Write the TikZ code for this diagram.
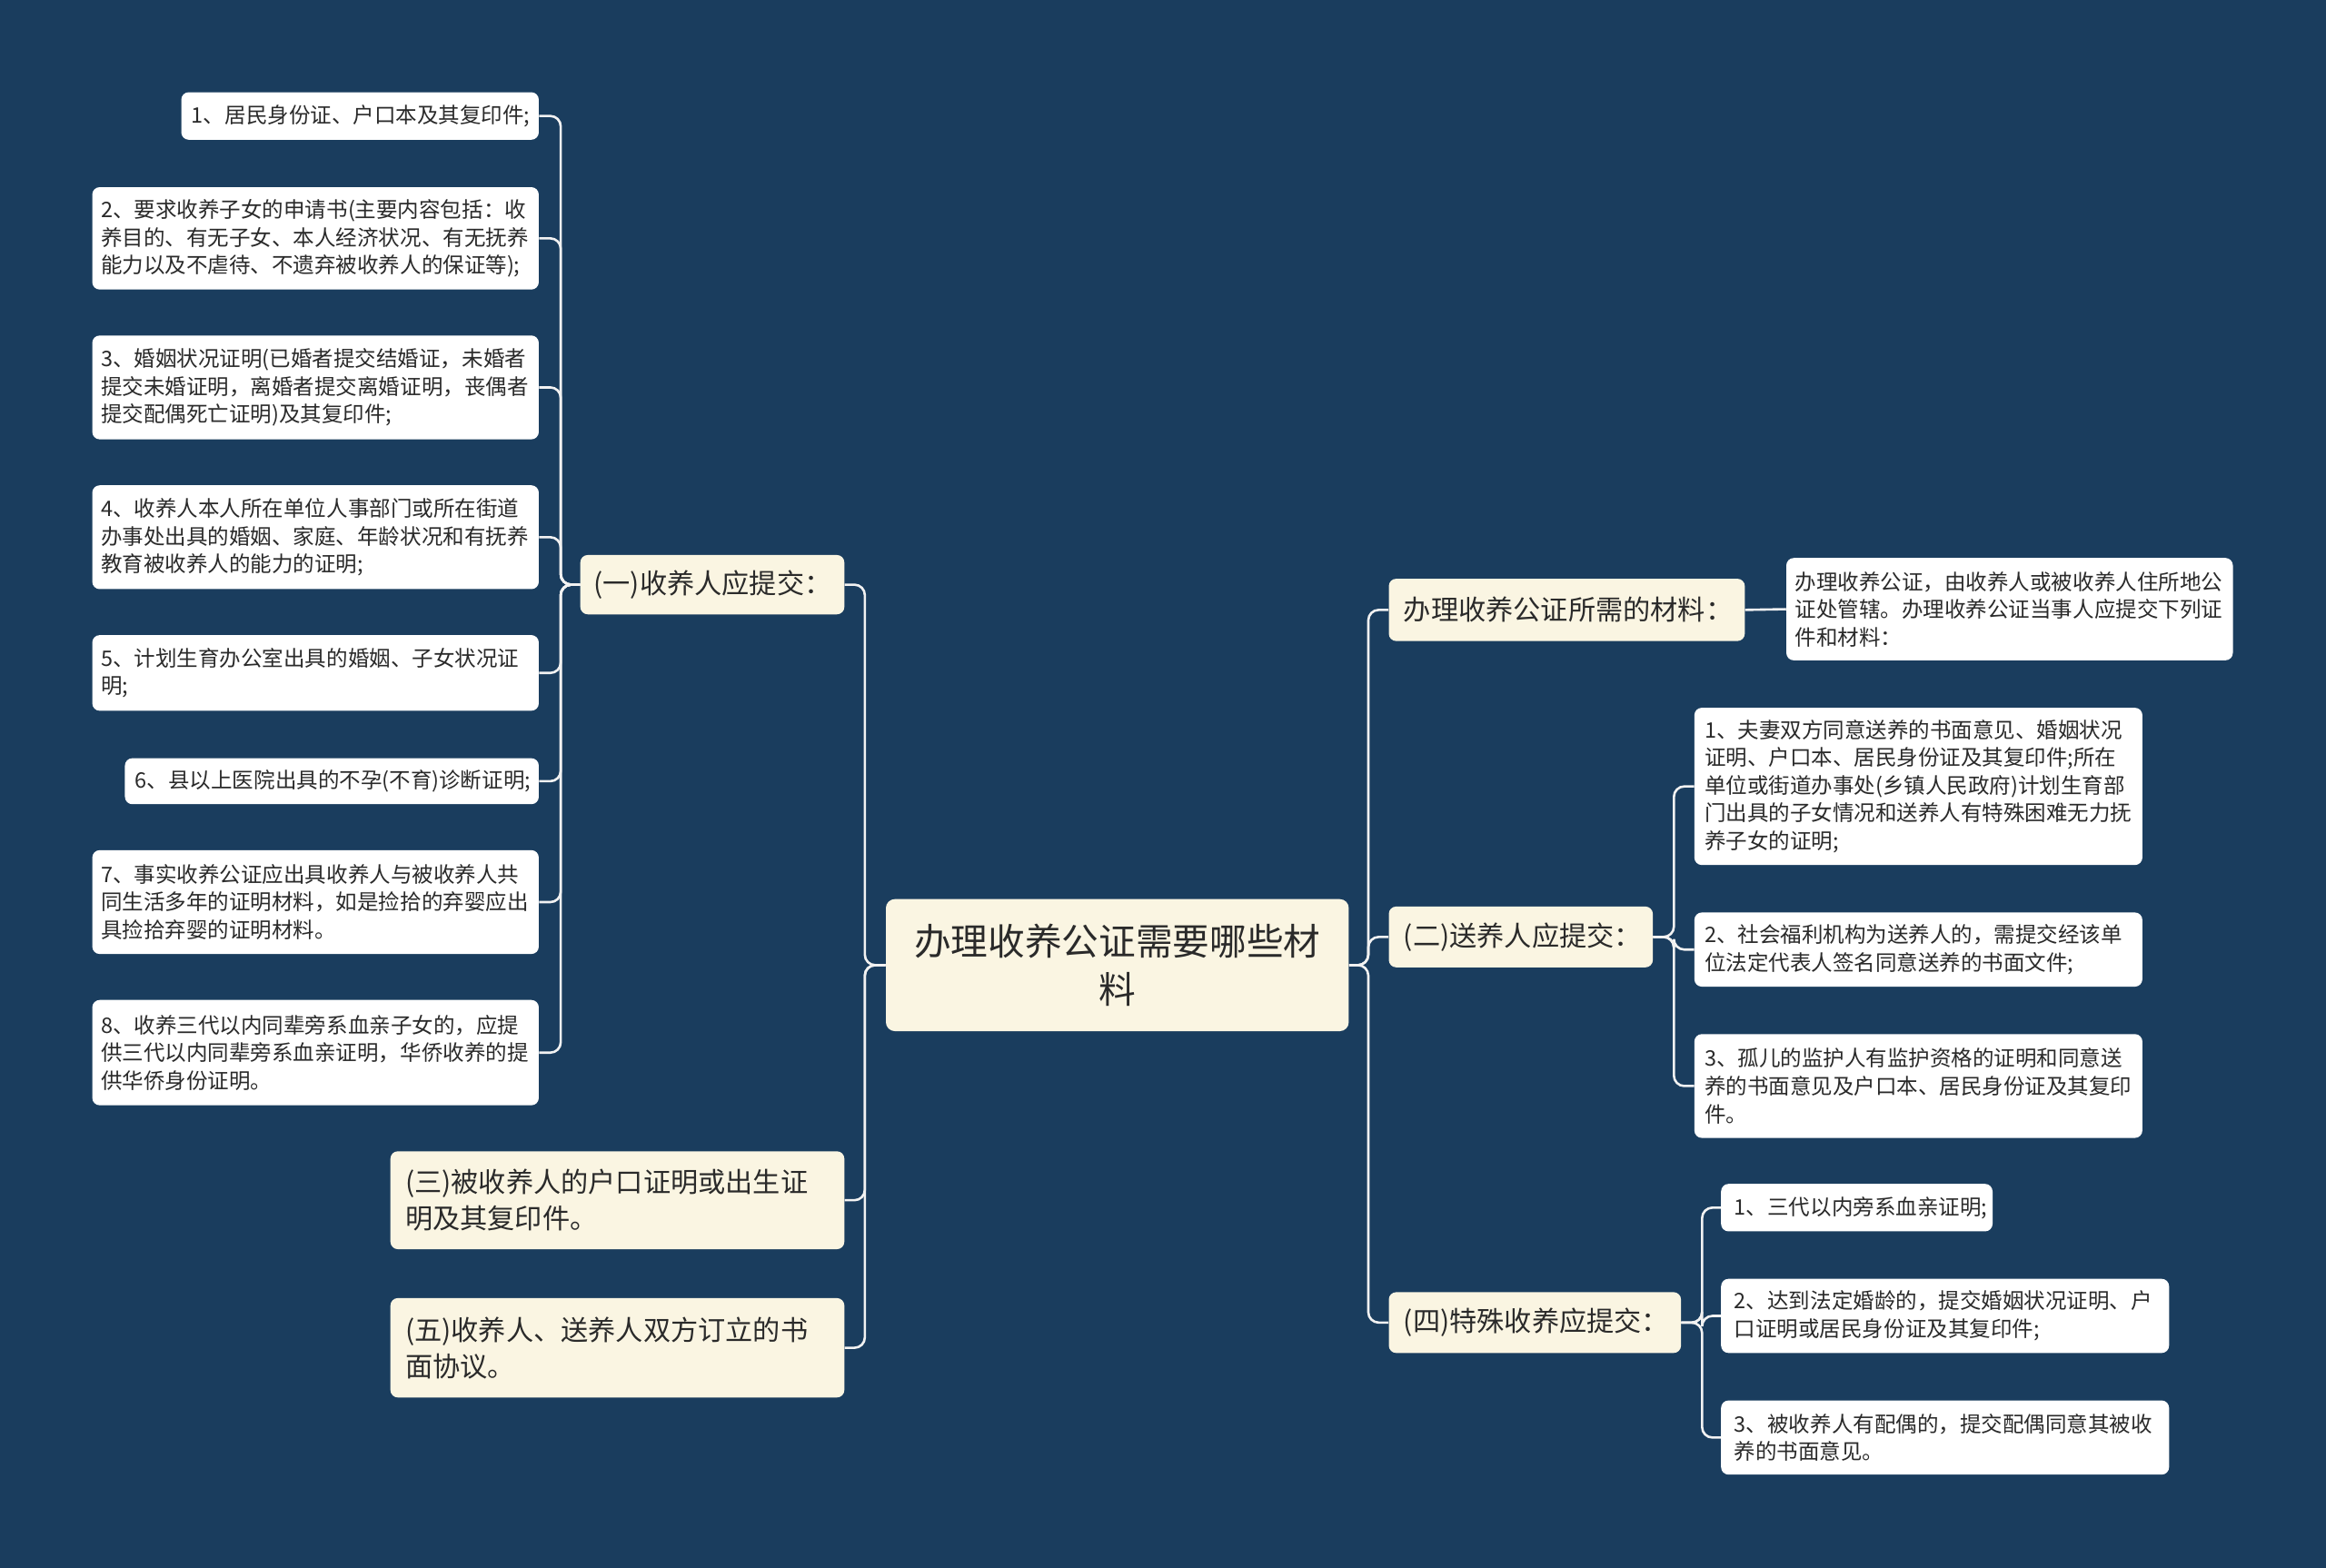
\documentclass[tikz,border=0pt]{standalone}
\usepackage{fontspec}
\setmainfont{Noto Sans CJK SC}
\definecolor{bg}{HTML}{1A3D5E}
\definecolor{cream}{HTML}{FAF5E2}
\definecolor{leafc}{HTML}{FFFFFF}
\definecolor{txt}{HTML}{2A2A2A}
\definecolor{linec}{HTML}{F2F2F2}
\tikzset{
 leaf/.style={fill=leafc, rounded corners=5pt, inner ysep=3pt, align=left, font=\fontsize{14.4}{18.7}\selectfont, text=txt},
 sub/.style={fill=cream, rounded corners=5pt, inner ysep=3pt, align=left, font=\fontsize{18.5}{24.5}\selectfont, text=txt},
 root/.style={fill=cream, rounded corners=6pt, inner ysep=3pt, align=center, font=\fontsize{24.9}{33}\selectfont, text=txt},
 conn/.style={draw=linec, line width=1.6pt, rounded corners=7pt},
}
\newcommand\putbox[8]{%
 \pgfmathsetmacro\tw{#6-#4-2*#2}%
 \pgfmathsetmacro\bh{#7-#5}%
 \node[#1, inner xsep=#2pt, anchor=north west, text width=\tw pt, minimum height=\bh pt] (#3) at (#4,#5) {#8};}
\begin{document}
\begin{tikzpicture}[x=1pt,y=-1pt]
\fill[bg] (0,0) rectangle (1568,1057);
\useasboundingbox (0,0) rectangle (1568,1057);
% root
\putbox{root}{10}{root}{597}{606}{909}{695}{办理收养公证需要哪些材\\料}
% left subs
\putbox{sub}{9}{g1}{391}{374}{569}{414}{(一)收养人应提交：}
\putbox{sub}{10}{g3}{263}{776}{569}{842}{(三)被收养人的户口证明或出生证\\明及其复印件。}
\putbox{sub}{10}{g5}{263}{875}{569}{942}{(五)收养人、送养人双方订立的书\\面协议。}
% left leaves
\putbox{leaf}{7}{L1}{122}{62}{363}{94}{1、居民身份证、户口本及其复印件;}
\putbox{leaf}{6}{L2}{62}{126}{363}{195}{2、要求收养子女的申请书(主要内容包括：收\\养目的、有无子女、本人经济状况、有无抚养\\能力以及不虐待、不遗弃被收养人的保证等);}
\putbox{leaf}{6}{L3}{62}{226}{363}{296}{3、婚姻状况证明(已婚者提交结婚证，未婚者\\提交未婚证明，离婚者提交离婚证明，丧偶者\\提交配偶死亡证明)及其复印件;}
\putbox{leaf}{6}{L4}{62}{327}{363}{397}{4、收养人本人所在单位人事部门或所在街道\\办事处出具的婚姻、家庭、年龄状况和有抚养\\教育被收养人的能力的证明;}
\putbox{leaf}{6}{L5}{62}{428}{363}{479}{5、计划生育办公室出具的婚姻、子女状况证\\明;}
\putbox{leaf}{7}{L6}{84}{511}{363}{542}{6、县以上医院出具的不孕(不育)诊断证明;}
\putbox{leaf}{6}{L7}{62}{573}{363}{643}{7、事实收养公证应出具收养人与被收养人共\\同生活多年的证明材料，如是捡拾的弃婴应出\\具捡拾弃婴的证明材料。}
\putbox{leaf}{6}{L8}{62}{674}{363}{745}{8、收养三代以内同辈旁系血亲子女的，应提\\供三代以内同辈旁系血亲证明，华侨收养的提\\供华侨身份证明。}
% right subs
\putbox{sub}{10}{r1}{936}{390}{1176}{432}{办理收养公证所需的材料：}
\putbox{sub}{10}{r2}{936}{611}{1114}{652}{(二)送养人应提交：}
\putbox{sub}{10}{r4}{936}{871}{1133}{912}{(四)特殊收养应提交：}
% right leaves
\putbox{leaf}{6}{r1c}{1204}{376}{1505}{445}{办理收养公证，由收养人或被收养人住所地公\\证处管辖。办理收养公证当事人应提交下列证\\件和材料：}
\putbox{leaf}{7}{r2a}{1142}{477}{1444}{583}{1、夫妻双方同意送养的书面意见、婚姻状况\\证明、户口本、居民身份证及其复印件;所在\\单位或街道办事处(乡镇人民政府)计划生育部\\门出具的子女情况和送养人有特殊困难无力抚\\养子女的证明;}
\putbox{leaf}{7}{r2b}{1142}{615}{1444}{665}{2、社会福利机构为送养人的，需提交经该单\\位法定代表人签名同意送养的书面文件;}
\putbox{leaf}{7}{r2c}{1142}{697}{1444}{767}{3、孤儿的监护人有监护资格的证明和同意送\\养的书面意见及户口本、居民身份证及其复印\\件。}
\putbox{leaf}{9}{r4a}{1160}{798}{1343}{830}{1、三代以内旁系血亲证明;}
\putbox{leaf}{9}{r4b}{1160}{862}{1462}{912}{2、达到法定婚龄的，提交婚姻状况证明、户\\口证明或居民身份证及其复印件;}
\putbox{leaf}{9}{r4c}{1160}{944}{1462}{994}{3、被收养人有配偶的，提交配偶同意其被收\\养的书面意见。}
% connectors
\foreach \n in {g1,g3,g5} \draw[conn] (root.west) -- ++(-14,0) |- (\n.east);
\foreach \n in {L1,L2,L3,L4,L5,L6,L7,L8} \draw[conn] (g1.west) -- ++(-13,0) |- (\n.east);
\foreach \n in {r1,r2,r4} \draw[conn] (root.east) -- ++(13,0) |- (\n.west);
\draw[conn] (r1.east) -- (r1c.west);
\foreach \n in {r2a,r2b,r2c} \draw[conn] (r2.east) -- ++(14,0) |- (\n.west);
\foreach \n in {r4a,r4b,r4c} \draw[conn] (r4.east) -- ++(14,0) |- (\n.west);
\end{tikzpicture}
\end{document}
